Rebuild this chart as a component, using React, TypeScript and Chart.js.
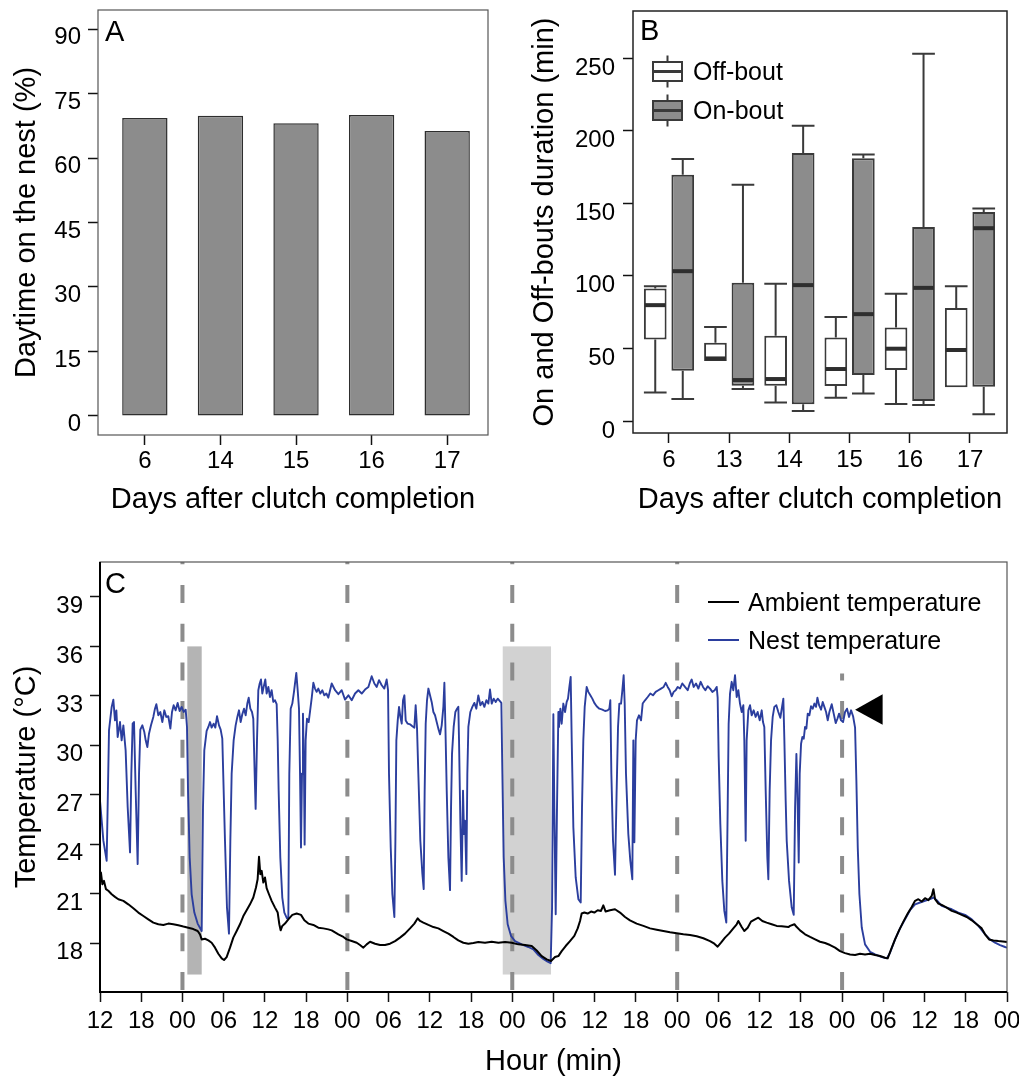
import React, { useEffect, useRef } from 'react';
import { Chart, registerables } from 'chart.js';

Chart.register(...registerables);

const FONT = "'Liberation Sans', Arial, Helvetica, sans-serif";

// ---------- Panel A ----------
const DAYS_A = ['6', '14', '15', '16', '17'];
const DAYTIME_ON_NEST = [69.3, 69.8, 68.1, 70.0, 66.3];
const Y_TICKS_A = [0, 15, 30, 45, 60, 75, 90];

// ---------- Panel B ----------
const DAYS_B = ['6', '13', '14', '15', '16', '17'];
const BOX_SERIES = ['Off-bout', 'On-bout'];
const OFF_MIN = [19.7, 41.3, 12.8, 16.1, 11.7, 23.2];
const OFF_Q1 = [56.2, 41.3, 24.3, 24.1, 35.1, 23.2];
const OFF_MEDIAN = [79.8, 43.1, 28.9, 35.8, 49.8, 48.9];
const OFF_Q3 = [91.3, 53.9, 58.7, 57.6, 64.4, 77.8];
const OFF_MAX = [92.9, 64.7, 94.5, 71.6, 87.6, 92.9];
const ON_MIN = [15.1, 22.0, 6.9, 19.0, 11.0, 4.6];
const ON_Q1 = [34.6, 24.3, 11.5, 31.7, 13.8, 23.6];
const ON_MEDIAN = [103.2, 28.2, 93.6, 73.6, 91.7, 132.8];
const ON_Q3 = [169.7, 95.2, 184.6, 181.0, 133.7, 144.0];
const ON_MAX = [180.5, 162.8, 203.4, 183.5, 253.0, 146.3];
const Y_TICKS_B = [0, 50, 100, 150, 200, 250];

// ---------- Panel C ----------
const HOUR_TICK_LABELS = ['12', '18', '00', '06', '12', '18', '00', '06', '12', '18', '00', '06', '12', '18', '00', '06', '12', '18', '00', '06', '12', '18', '00'];
const HOUR_TICK_VALUES = [0, 6, 12, 18, 24, 30, 36, 42, 48, 54, 60, 66, 72, 78, 84, 90, 96, 102, 108, 114, 120, 126, 132];
const Y_TICKS_C = [18, 21, 24, 27, 30, 33, 36, 39];
const MIDNIGHTS = [12, 36, 60, 84, 108];
const MIDNIGHT_LINE_TOP = [null, null, null, null, 34.35];
const SHADED_START = [12.71, 58.61];
const SHADED_END = [14.8, 65.64];
const SHADED_TOP = 36;
const SHADED_BOTTOM = 16.09;
const ARROW_TIP = [109.89, 32.16];
const ARROW_BASE = [113.9, 33.1, 31.25];
const SERIES_C = ['Ambient temperature', 'Nest temperature'];

const AMBIENT_TEMPERATURE = [
  [0, 22.18], [0.14, 22.28], [0.34, 21.57], [0.58, 21.77], [0.87, 21.27], [1.21, 21.17], [1.7, 20.96], [2.18, 20.8], [2.67, 20.66], [3.4, 20.56], [4.12, 20.35], [4.85, 20.11], [5.58, 19.85], [6.31, 19.64], [7.03, 19.44], [7.76, 19.24], [8.49, 19.14], [9.22, 19.1], [9.94, 19.18], [10.67, 19.14], [11.4, 19.08], [12.13, 19.0], [12.85, 18.93], [13.58, 18.85], [14.21, 18.73], [14.55, 18.53], [14.8, 18.22], [15.28, 18.26], [15.77, 18.16], [16.25, 18.02], [16.74, 17.72], [17.22, 17.35], [17.71, 17.07], [18.05, 16.97], [18.43, 17.15], [18.92, 17.72], [19.4, 18.33], [19.89, 18.73], [20.37, 19.14], [20.86, 19.64], [21.34, 19.99], [21.83, 20.35], [22.31, 20.76], [22.7, 21.37], [22.94, 21.87], [23.14, 23.24], [23.33, 22.18], [23.53, 22.38], [23.77, 21.67], [24.01, 21.98], [24.25, 21.33], [24.59, 20.96], [24.98, 20.56], [25.47, 20.15], [25.86, 19.85], [26.1, 19.14], [26.29, 18.77], [26.53, 19.04], [26.92, 19.18], [27.41, 19.44], [27.99, 19.71], [28.62, 19.79], [29.25, 19.71], [29.74, 19.38], [30.32, 19.18], [31.05, 19.1], [31.77, 18.93], [32.5, 18.89], [33.23, 18.83],
  [33.72, 18.77], [34.69, 18.53], [35.42, 18.37], [35.9, 18.22], [36.63, 18.12], [37.36, 18.02], [37.84, 17.88], [38.33, 17.72], [38.81, 17.92], [39.3, 18.08], [40.03, 17.96], [40.75, 17.88], [41.48, 17.88], [42.21, 17.96], [42.94, 18.12], [43.66, 18.33], [44.39, 18.57], [45.12, 18.89], [45.75, 19.18], [46.24, 19.5], [46.58, 19.34], [47.06, 19.24], [47.79, 19.1], [48.52, 18.97], [49.24, 18.89], [49.97, 18.73], [50.7, 18.57], [51.43, 18.37], [52.15, 18.16], [52.88, 18.02], [53.61, 17.96], [54.34, 18.0], [55.06, 18.06], [56.03, 18.02], [57.01, 18.08], [57.98, 18.02], [58.95, 18.06], [59.92, 18.02], [60.89, 17.92], [61.86, 17.88], [62.83, 17.82], [63.55, 17.55], [64.28, 17.21], [65.01, 17.01], [65.64, 16.91], [66.22, 17.15],
  [66.71, 17.21], [67.19, 17.51], [67.77, 17.82], [68.4, 18.12], [69.03, 18.43], [69.52, 18.89], [69.86, 19.34], [70.1, 19.79], [70.49, 19.85], [70.97, 19.79], [71.46, 19.91], [71.94, 19.85], [72.43, 19.99], [72.91, 19.95], [73.25, 20.29], [73.59, 19.91], [74.22, 19.99], [74.95, 20.05], [75.68, 19.85], [76.41, 19.58], [77.13, 19.38], [78.1, 19.18], [79.08, 19.04], [80.05, 18.89], [81.02, 18.81], [81.99, 18.73], [82.96, 18.65], [83.93, 18.59], [84.9, 18.53], [85.87, 18.49], [86.84, 18.41], [87.81, 18.29], [88.78, 18.12], [89.41, 17.96], [89.89, 17.78], [90.38, 18.02], [90.96, 18.33], [91.54, 18.57], [92.17, 18.89], [92.66, 19.14], [92.9, 19.34], [93.39, 18.97], [93.77, 18.73], [94.26, 18.93], [94.74, 19.3], [95.33, 19.44], [95.81, 19.54], [96.39, 19.34], [97.02, 19.24], [97.75, 19.14], [98.48, 19.04], [99.21, 19.02], [100.18, 18.97],
  [100.43, 19.04], [101.06, 19.14], [101.4, 18.97], [101.88, 18.77], [102.61, 18.53], [103.34, 18.37], [104.07, 18.22], [104.79, 18.08], [105.52, 18.0], [106.25, 17.88], [106.98, 17.72], [107.7, 17.51], [108.43, 17.39], [109.16, 17.31], [109.89, 17.27], [110.61, 17.35], [111.34, 17.31], [112.07, 17.35], [112.8, 17.27], [113.53, 17.21], [114.25, 17.11], [114.64, 17.07], [115.13, 17.62], [115.71, 18.22], [116.29, 18.77], [116.92, 19.3], [117.55, 19.79], [118.13, 20.19], [118.62, 20.56], [119.1, 20.66], [119.59, 20.52], [120.07, 20.72], [120.56, 20.6], [121.04, 20.86], [121.29, 21.27], [121.53, 20.66], [122.01, 20.39], [122.5, 20.31], [123.23, 20.15], [123.96, 19.95], [124.68, 19.85], [125.41, 19.71], [126.14, 19.58], [126.87, 19.38], [127.59, 19.14], [128.32, 18.89], [128.81, 18.53], [129.39, 18.22], [130.02, 18.16], [130.75, 18.12], [131.72, 18.08], [132, 18.06],
];

const NEST_TEMPERATURE = [
  [0, 26.64], [0.49, 24.21], [0.97, 22.99], [1.31, 30.9], [1.7, 32.33], [1.94, 32.77], [2.18, 31.51], [2.38, 32.12], [2.57, 30.5], [2.91, 31.41], [3.15, 30.3], [3.4, 31.21], [3.73, 29.69], [4.03, 26.24], [4.37, 23.5], [4.56, 28.27], [4.75, 31.31], [4.95, 31.41], [5.19, 27.25], [5.48, 22.79], [5.68, 28.27], [5.87, 30.95], [6.16, 31.21], [6.45, 30.8], [6.65, 30.3], [6.89, 29.89], [7.13, 30.7], [7.42, 31.21], [7.76, 31.72], [8.0, 32.22], [8.2, 32.49], [8.49, 31.82], [8.78, 32.02], [9.07, 31.41], [9.36, 32.12], [9.65, 31.72], [9.94, 31.76], [10.24, 31.01], [10.48, 32.02], [10.72, 32.43], [11.01, 32.12], [11.3, 32.57], [11.59, 32.08], [11.88, 32.33], [12.18, 32.02], [12.47, 32.16], [12.66, 31.11], [12.81, 27.25], [13.05, 23.2], [13.34, 20.96], [13.73, 19.85], [14.21, 19.18], [14.8, 18.73], [14.99, 26.24], [15.18, 29.69], [15.52, 30.87], [15.77, 31.11], [16.01, 31.41], [16.25, 31.07], [16.54, 31.31], [16.78, 31.07], [17.03, 31.76], [17.32, 31.21], [17.56, 30.95], [17.8, 30.4], [18.19, 24.21], [18.48, 20.15], [18.77, 18.57], [18.97, 24.21], [19.16, 28.27], [19.45, 30.3], [19.74, 31.21], [19.99, 31.72], [20.23, 32.12], [20.47, 31.41], [20.71, 31.88], [20.96, 32.22], [21.2, 31.82], [21.44, 32.53], [21.64, 32.89], [21.88, 32.22], [22.12, 32.02], [22.31, 31.61], [22.51, 28.27], [22.65, 26.14], [22.85, 30.3], [23.04, 33.34], [23.24, 33.75], [23.43, 33.99], [23.62, 33.14], [23.82, 33.54], [24.06, 33.99], [24.25, 33.14], [24.5, 33.54], [24.74, 32.93], [24.98, 33.34], [25.22, 32.63], [25.47, 32.73], [25.71, 32.49], [25.86, 30.3], [26.0, 27.25], [26.24, 23.2], [26.53, 20.76], [26.83, 19.85], [27.21, 19.5], [27.41, 19.54], [27.55, 28.27], [27.75, 32.22], [27.99, 32.53], [28.23, 33.24], [28.38, 33.75], [28.57, 34.39], [28.77, 33.34], [28.96, 32.22], [29.11, 28.27], [29.25, 23.8], [29.4, 28.27], [29.54, 31.92], [29.69, 28.27], [29.78, 23.97], [29.93, 30.3], [30.12, 31.61], [30.37, 31.41], [30.56, 32.02], [30.8, 32.83], [31.05, 33.79], [31.29, 33.44], [31.53, 33.24], [31.77, 33.44], [32.07, 33.14], [32.36, 33.34], [32.65, 33.03], [32.94, 33.14], [33.23, 32.89],
  [33.72, 33.75], [34.21, 33.34], [34.69, 33.1], [35.18, 33.34], [35.66, 32.77], [36.15, 33.03], [36.63, 32.73], [37.12, 33.14], [37.6, 33.34], [38.09, 33.14], [38.57, 33.38], [39.06, 33.54], [39.54, 34.19], [39.93, 33.75], [40.27, 33.54], [40.61, 33.95], [41.0, 33.64], [41.38, 33.44], [41.72, 33.99], [41.92, 33.34], [42.06, 28.27], [42.31, 23.8], [42.55, 20.96], [42.84, 19.58], [42.99, 24.21], [43.13, 30.3], [43.33, 31.51], [43.52, 32.33], [43.71, 31.72], [43.91, 31.31], [44.1, 32.73], [44.3, 33.03], [44.49, 31.51], [44.78, 31.31], [45.12, 31.27], [45.46, 31.15], [45.75, 31.07], [45.94, 32.43], [46.14, 31.01], [46.33, 28.27], [46.62, 24.21], [46.92, 22.18], [47.11, 21.27], [47.25, 27.25], [47.4, 31.31], [47.59, 32.73], [47.79, 33.44], [48.03, 33.03], [48.27, 32.63], [48.52, 32.02], [48.76, 31.82], [49.0, 31.41], [49.24, 31.01], [49.49, 30.66], [49.73, 31.21], [49.97, 32.33], [50.12, 33.79], [50.26, 31.31], [50.46, 27.25], [50.7, 23.2], [50.94, 21.21], [51.09, 26.24], [51.23, 29.48], [51.47, 31.11], [51.72, 32.02], [51.96, 32.22], [52.15, 32.33], [52.25, 30.3], [52.45, 25.22], [52.64, 21.77], [52.83, 27.25], [52.98, 24.61], [53.12, 25.43], [53.32, 22.18], [53.46, 28.27], [53.61, 31.11], [53.9, 32.02], [54.19, 32.33], [54.48, 32.57], [54.77, 32.22], [55.06, 33.03], [55.36, 32.43], [55.65, 32.63], [55.94, 32.33], [56.23, 32.73], [56.52, 32.53], [56.76, 33.38], [57.01, 32.53], [57.3, 32.83], [57.59, 32.63], [57.88, 32.83], [58.17, 32.69], [58.41, 32.57], [58.56, 28.27], [58.75, 23.2], [59.0, 20.56], [59.33, 19.14], [59.82, 18.43], [60.4, 18.12], [61.37, 17.92], [62.34, 17.76], [63.07, 17.62], [63.8, 17.27], [64.52, 17.04], [65.15, 16.87], [65.59, 16.78], [65.79, 20.15], [65.98, 31.88], [66.12, 26.24], [66.32, 19.75], [66.51, 26.24], [66.71, 32.02],
  [66.8, 31.11], [67.0, 32.22], [67.19, 31.31], [67.43, 32.53], [67.68, 32.02], [67.92, 32.63], [68.11, 32.83], [68.31, 33.54], [68.5, 34.15], [68.65, 30.3], [68.89, 25.02], [69.23, 21.98], [69.62, 20.66], [69.96, 20.46], [70.15, 26.24], [70.34, 30.3], [70.54, 32.33], [70.83, 33.54], [71.07, 33.24], [71.36, 33.03], [71.65, 32.83], [71.94, 32.57], [72.28, 32.37], [72.67, 32.22], [73.11, 32.16], [73.5, 32.08], [73.88, 32.12], [74.13, 32.22], [74.27, 32.73], [74.42, 28.27], [74.66, 24.21], [74.95, 22.14], [75.19, 27.25], [75.39, 31.11], [75.58, 32.53], [75.83, 32.53], [76.02, 33.34], [76.21, 34.25], [76.36, 32.53], [76.55, 28.27], [76.89, 24.61], [77.18, 22.99], [77.47, 21.87], [77.62, 30.3], [77.77, 24.11], [77.96, 30.3], [78.15, 31.51], [78.44, 31.82], [78.74, 31.51], [78.98, 32.53], [79.32, 32.73], [79.71, 32.93], [80.09, 33.14], [80.48, 33.03], [80.87, 33.24], [81.26, 33.34], [81.65, 33.44], [82.03, 33.54], [82.33, 33.79], [82.62, 33.54], [82.91, 33.34], [83.2, 32.97], [83.49, 33.24], [83.78, 33.34], [84.07, 33.54], [84.41, 33.44], [84.75, 33.75], [85.14, 33.54], [85.53, 33.34], [85.87, 33.79], [86.11, 33.99], [86.4, 33.54], [86.74, 33.75], [87.08, 33.44], [87.42, 33.85], [87.76, 33.54], [88.1, 33.34], [88.44, 33.58], [88.78, 33.44], [89.12, 33.24], [89.46, 33.34], [89.75, 33.54], [89.89, 32.89], [90.04, 29.28], [90.28, 25.22], [90.57, 21.77], [90.86, 19.95], [91.15, 19.24], [91.35, 26.24], [91.49, 31.31], [91.69, 33.14], [91.93, 33.85], [92.17, 33.34], [92.42, 34.25], [92.66, 32.93], [92.9, 33.34], [93.14, 32.53], [93.39, 32.02], [93.63, 32.43], [93.77, 30.3], [93.97, 24.21], [94.11, 30.3], [94.36, 32.12], [94.6, 32.43], [94.84, 31.82], [95.13, 32.12], [95.42, 31.72], [95.71, 32.02], [96.01, 31.51], [96.3, 32.12], [96.49, 31.41], [96.68, 31.11], [96.88, 27.25], [97.12, 23.2], [97.27, 21.87], [97.46, 27.25], [97.66, 30.3], [97.9, 31.72], [98.14, 32.33], [98.43, 32.43], [98.72, 32.02], [99.01, 31.67], [99.26, 32.33], [99.45, 32.83], [99.6, 30.3], [99.79, 26.64],
  [99.94, 24.21], [100.28, 21.77], [100.67, 20.15], [100.96, 19.71], [101.16, 26.24], [101.35, 29.48], [101.49, 27.25], [101.69, 22.89], [101.83, 28.27], [102.03, 30.09], [102.22, 30.5], [102.42, 30.4], [102.61, 31.11], [102.8, 31.01], [103.0, 31.92], [103.24, 31.82], [103.48, 32.37], [103.73, 32.22], [103.97, 32.53], [104.21, 32.33], [104.41, 32.89], [104.65, 32.43], [104.94, 32.16], [105.18, 32.63], [105.42, 32.33], [105.67, 32.02], [105.91, 31.51], [106.15, 32.02], [106.49, 32.49], [106.78, 31.92], [107.07, 31.35], [107.32, 31.61], [107.56, 31.92], [107.85, 31.51], [108.14, 31.41], [108.43, 32.02], [108.72, 32.22], [109.01, 31.72], [109.31, 32.12], [109.6, 31.76], [109.89, 31.07], [110.08, 27.86], [110.28, 23.8], [110.52, 20.96], [110.86, 18.94], [111.34, 17.92], [112.07, 17.47], [112.8, 17.31], [113.77, 17.15], [114.5, 17.07], [114.98, 17.41], [115.71, 18.22], [116.44, 18.89], [117.16, 19.44], [117.89, 19.99], [118.62, 20.35], [119.35, 20.46], [120.07, 20.56], [120.8, 20.66], [121.29, 20.76], [121.77, 20.6], [122.5, 20.25], [123.23, 20.15], [123.96, 20.05], [124.92, 19.85], [125.9, 19.71], [126.87, 19.44], [127.84, 19.04], [128.81, 18.53], [129.53, 18.22], [130.26, 18.02], [130.99, 17.88], [131.72, 17.76], [132, 17.72],
];

// ---------- shared helpers ----------
const TICK_FONT = { family: FONT, size: 24 };
const TITLE_FONT = { family: FONT, size: 29 };

function xAxis(min: number, max: number, values: number[], labels: string[], title: string, height: number, tickPad: number, titlePad: number) {
  return {
    type: 'linear', min, max, bounds: 'data', offset: false,
    afterBuildTicks: (s: any) => { s.ticks = values.map((v) => ({ value: v })); },
    afterFit: (s: any) => { s.height = height; s.paddingLeft = 0; s.paddingRight = 0; s.paddingTop = 0; s.paddingBottom = 0; },
    ticks: { autoSkip: false, maxRotation: 0, minRotation: 0, padding: tickPad, color: '#000', font: TICK_FONT, callback: (_v: any, i: number) => labels[i] },
    grid: { display: true, offset: false, drawOnChartArea: false, drawTicks: true, tickLength: 10, tickWidth: 1.5, tickColor: '#111' },
    border: { display: false },
    title: { display: true, text: title, color: '#000', font: TITLE_FONT, padding: { top: 0, bottom: titlePad } },
  };
}

function yAxis(min: number, max: number, values: number[], title: string, width: number, tickPad: number, titlePad: number, labelOffset: number) {
  return {
    type: 'linear', min, max, bounds: 'data',
    afterBuildTicks: (s: any) => { s.ticks = values.map((v) => ({ value: v })); },
    afterFit: (s: any) => { s.width = width; s.paddingLeft = 0; s.paddingRight = 0; s.paddingTop = 0; s.paddingBottom = 0; },
    ticks: { autoSkip: false, padding: tickPad, labelOffset, color: '#000', font: TICK_FONT, callback: (v: any) => String(v) },
    grid: { display: true, drawOnChartArea: false, drawTicks: true, tickLength: 10, tickWidth: 1.5, tickColor: '#111' },
    border: { display: false },
    title: { display: true, text: title, color: '#000', font: TITLE_FONT, padding: { top: titlePad, bottom: 0 } },
  };
}

function framePlugin(color: string, width: number, heavy?: { color: string; width: number }) {
  return {
    id: 'frame',
    afterDraw(chart: any) {
      const { ctx, chartArea: a } = chart;
      ctx.save();
      ctx.strokeStyle = color;
      ctx.lineWidth = width;
      ctx.strokeRect(a.left, a.top, a.right - a.left, a.bottom - a.top);
      if (heavy) {
        ctx.strokeStyle = heavy.color;
        ctx.lineWidth = heavy.width;
        ctx.beginPath();
        ctx.moveTo(a.left, a.top);
        ctx.lineTo(a.left, a.bottom);
        ctx.lineTo(a.right, a.bottom);
        ctx.stroke();
      }
      ctx.restore();
    },
  };
}

function letterPlugin(letter: string, x: number, y: number) {
  return {
    id: 'letter',
    afterDraw(chart: any) {
      const c = chart.ctx;
      c.save();
      c.font = `29px ${FONT}`;
      c.fillStyle = '#000';
      c.textAlign = 'left';
      c.textBaseline = 'alphabetic';
      c.fillText(letter, x, y);
      c.restore();
    },
  };
}

const BASE_OPTIONS = {
  animation: false,
  responsive: false,
  maintainAspectRatio: false,
  devicePixelRatio: 1,
  events: [],
};

// ---------- Panel A ----------
function makeA(canvas: HTMLCanvasElement) {
  return new Chart(canvas, {
    type: 'bar',
    data: {
      datasets: [{
        data: DAYTIME_ON_NEST.map((v, i) => ({ x: i, y: v })),
        backgroundColor: '#8c8c8c',
        borderColor: '#2e2e2e',
        borderWidth: 1.5,
        borderSkipped: false,
        barPercentage: 0.6,
        categoryPercentage: 1,
      }],
    },
    options: {
      ...BASE_OPTIONS,
      layout: { padding: { left: 0, top: 10, right: 12, bottom: 0 } },
      plugins: { legend: { display: false }, tooltip: { enabled: false } },
      scales: {
        x: xAxis(-0.62, 4.54, DAYS_A.map((_, i) => i), DAYS_A, 'Days after clutch completion', 95, 2, 12.6),
        y: yAxis(-4.42, 94.42, Y_TICKS_A, 'Daytime on the nest (%)', 98, 7, 9.2, 8.5),
      },
    } as any,
    plugins: [framePlugin('#555', 1.2), letterPlugin('A', 105, 41)],
  });
}

// ---------- Panel B ----------
const boxPlugin = {
  id: 'boxes',
  afterDatasetsDraw(chart: any) {
    const { ctx, scales: { y } } = chart;
    const stats = [
      { min: OFF_MIN, med: OFF_MEDIAN, q1: OFF_Q1, q3: OFF_Q3, max: OFF_MAX },
      { min: ON_MIN, med: ON_MEDIAN, q1: ON_Q1, q3: ON_Q3, max: ON_MAX },
    ];
    ctx.save();
    stats.forEach((s, d) => {
      const meta = chart.getDatasetMeta(d);
      meta.data.forEach((el: any, i: number) => {
        const cx = el.x;
        const half = el.width / 2;
        ctx.strokeStyle = '#3a3a3a';
        ctx.lineWidth = 2;
        ctx.beginPath();
        if (s.max[i] > s.q3[i]) {
          const py = y.getPixelForValue(s.max[i]);
          ctx.moveTo(cx, y.getPixelForValue(s.q3[i]));
          ctx.lineTo(cx, py);
          ctx.moveTo(cx - half, py);
          ctx.lineTo(cx + half, py);
        }
        if (s.min[i] < s.q1[i]) {
          const py = y.getPixelForValue(s.min[i]);
          ctx.moveTo(cx, y.getPixelForValue(s.q1[i]));
          ctx.lineTo(cx, py);
          ctx.moveTo(cx - half, py);
          ctx.lineTo(cx + half, py);
        }
        ctx.stroke();
        ctx.strokeStyle = '#2e2e2e';
        ctx.lineWidth = 4;
        ctx.beginPath();
        const my = y.getPixelForValue(s.med[i]);
        ctx.moveTo(cx - half + 1, my);
        ctx.lineTo(cx + half - 1, my);
        ctx.stroke();
      });
    });
    ctx.restore();
  },
  afterDraw(chart: any) {
    const { ctx, chartArea: a } = chart;
    const fills = ['#ffffff', '#8c8c8c'];
    const boxTop = [a.top + 50, a.top + 89];
    ctx.save();
    BOX_SERIES.forEach((label, k) => {
      const left = a.left + 19;
      const w = 31;
      const h = 21;
      const top = boxTop[k];
      const cx = left + w / 2;
      ctx.strokeStyle = '#3a3a3a';
      ctx.lineWidth = 2;
      ctx.beginPath();
      ctx.moveTo(cx, top - 5.5);
      ctx.lineTo(cx, top);
      ctx.moveTo(cx, top + h);
      ctx.lineTo(cx, top + h + 5.5);
      ctx.stroke();
      ctx.fillStyle = fills[k];
      ctx.fillRect(left, top, w, h);
      ctx.strokeRect(left + 1, top + 1, w - 2, h - 2);
      ctx.lineWidth = 3;
      ctx.beginPath();
      ctx.moveTo(left + 1, top + h / 2);
      ctx.lineTo(left + w - 1, top + h / 2);
      ctx.stroke();
      ctx.fillStyle = '#000';
      ctx.font = `25px ${FONT}`;
      ctx.textAlign = 'left';
      ctx.textBaseline = 'middle';
      ctx.fillText(label, a.left + 60, top + h / 2 + 1.5);
    });
    ctx.restore();
  },
};

function makeB(canvas: HTMLCanvasElement) {
  const common = { borderColor: '#3a3a3a', borderWidth: 2, borderSkipped: false, categoryPercentage: 0.914, barPercentage: 0.825 };
  return new Chart(canvas, {
    type: 'bar',
    data: {
      datasets: [
        { label: BOX_SERIES[0], data: OFF_Q1.map((q, i) => ({ x: i, y: [q, OFF_Q3[i]] })), backgroundColor: '#ffffff', ...common },
        { label: BOX_SERIES[1], data: ON_Q1.map((q, i) => ({ x: i, y: [q, ON_Q3[i]] })), backgroundColor: '#8c8c8c', ...common },
      ],
    },
    options: {
      ...BASE_OPTIONS,
      layout: { padding: { left: 0, top: 11, right: 12, bottom: 0 } },
      plugins: { legend: { display: false }, tooltip: { enabled: false } },
      scales: {
        x: xAxis(-0.598, 5.615, DAYS_B.map((_, i) => i), DAYS_B, 'Days after clutch completion', 97, 2.6, 12.6),
        y: yAxis(-8.26, 282.4, Y_TICKS_B, 'On and Off-bouts duration (min)', 133, 8, 27.6, 10),
      },
    } as any,
    plugins: [boxPlugin, framePlugin('#222', 1.5), letterPlugin('B', 140, 40)],
  });
}

// ---------- Panel C ----------
const decorC = {
  id: 'decorC',
  beforeDatasetsDraw(chart: any) {
    const { ctx, chartArea: a, scales: { x, y } } = chart;
    ctx.save();
    const shades = ['#b4b4b4', '#d2d2d2'];
    SHADED_START.forEach((s, i) => {
      const x0 = x.getPixelForValue(s);
      const x1 = x.getPixelForValue(SHADED_END[i]);
      const y0 = y.getPixelForValue(SHADED_TOP);
      const y1 = y.getPixelForValue(SHADED_BOTTOM);
      ctx.fillStyle = shades[i];
      ctx.fillRect(x0, y0, x1 - x0, y1 - y0);
    });
    ctx.strokeStyle = '#8c8c8c';
    ctx.lineWidth = 4;
    ctx.setLineDash([18, 20.7]);
    ctx.lineDashOffset = 15.7;
    MIDNIGHTS.forEach((h, i) => {
      const px = x.getPixelForValue(h);
      ctx.save();
      const topVal = MIDNIGHT_LINE_TOP[i];
      if (topVal != null) {
        const ty = y.getPixelForValue(topVal);
        ctx.beginPath();
        ctx.rect(px - 5, ty, 10, a.bottom - ty);
        ctx.clip();
      }
      ctx.beginPath();
      ctx.moveTo(px, a.top);
      ctx.lineTo(px, a.bottom);
      ctx.stroke();
      ctx.restore();
    });
    ctx.restore();
  },
  afterDatasetsDraw(chart: any) {
    const { ctx, chartArea: a, scales: { x, y } } = chart;
    ctx.save();
    ctx.fillStyle = '#000';
    ctx.beginPath();
    ctx.moveTo(x.getPixelForValue(ARROW_TIP[0]), y.getPixelForValue(ARROW_TIP[1]));
    ctx.lineTo(x.getPixelForValue(ARROW_BASE[0]), y.getPixelForValue(ARROW_BASE[1]));
    ctx.lineTo(x.getPixelForValue(ARROW_BASE[0]), y.getPixelForValue(ARROW_BASE[2]));
    ctx.closePath();
    ctx.fill();
    const colors = ['#000000', '#2b3e9e'];
    const ly = [a.top + 40, a.top + 78];
    SERIES_C.forEach((label, k) => {
      ctx.strokeStyle = colors[k];
      ctx.lineWidth = 2;
      ctx.beginPath();
      ctx.moveTo(708, ly[k]);
      ctx.lineTo(739, ly[k]);
      ctx.stroke();
      ctx.fillStyle = '#000';
      ctx.font = `25px ${FONT}`;
      ctx.textAlign = 'left';
      ctx.textBaseline = 'middle';
      ctx.fillText(label, 748, ly[k] + 2);
    });
    ctx.restore();
  },
};

function makeC(canvas: HTMLCanvasElement) {
  return new Chart(canvas, {
    type: 'line',
    data: {
      datasets: [
        { label: SERIES_C[0], data: AMBIENT_TEMPERATURE.map(([h, t]) => ({ x: h, y: t })), borderColor: '#000000', borderWidth: 2, pointRadius: 0, tension: 0, fill: false, borderJoinStyle: 'round' },
        { label: SERIES_C[1], data: NEST_TEMPERATURE.map(([h, t]) => ({ x: h, y: t })), borderColor: '#2b3e9e', borderWidth: 1.9, pointRadius: 0, tension: 0, fill: false, borderJoinStyle: 'round' },
      ],
    },
    options: {
      ...BASE_OPTIONS,
      layout: { padding: { left: 0, top: 22, right: 12, bottom: 0 } },
      plugins: { legend: { display: false }, tooltip: { enabled: false } },
      scales: {
        x: xAxis(0, 132, HOUR_TICK_VALUES, HOUR_TICK_LABELS, 'Hour (min)', 93, 5, 5.6),
        y: yAxis(15.03, 41.12, Y_TICKS_C, 'Temperature (°C)', 100, 7, 9.2, 9.5),
      },
    } as any,
    plugins: [decorC, framePlugin('#555', 1.2, { color: '#000', width: 2 }), letterPlugin('C', 105, 53)],
  });
}

export default function App() {
  const refA = useRef<HTMLCanvasElement>(null);
  const refB = useRef<HTMLCanvasElement>(null);
  const refC = useRef<HTMLCanvasElement>(null);

  useEffect(() => {
    const charts: Chart[] = [];
    if (refA.current) charts.push(makeA(refA.current));
    if (refB.current) charts.push(makeB(refB.current));
    if (refC.current) charts.push(makeC(refC.current));
    return () => charts.forEach((c) => c.destroy());
  }, []);

  return (
    <div style={{ position: 'absolute', left: 0, top: 0, width: 1019, height: 1077, overflow: 'hidden', background: '#fff' }}>
      <canvas ref={refA} width={500} height={530} style={{ position: 'absolute', left: 0, top: 0, width: 500, height: 530 }} />
      <canvas ref={refB} width={519} height={530} style={{ position: 'absolute', left: 500, top: 0, width: 519, height: 530 }} />
      <canvas ref={refC} width={1019} height={545} style={{ position: 'absolute', left: 0, top: 540, width: 1019, height: 545 }} />
    </div>
  );
}
